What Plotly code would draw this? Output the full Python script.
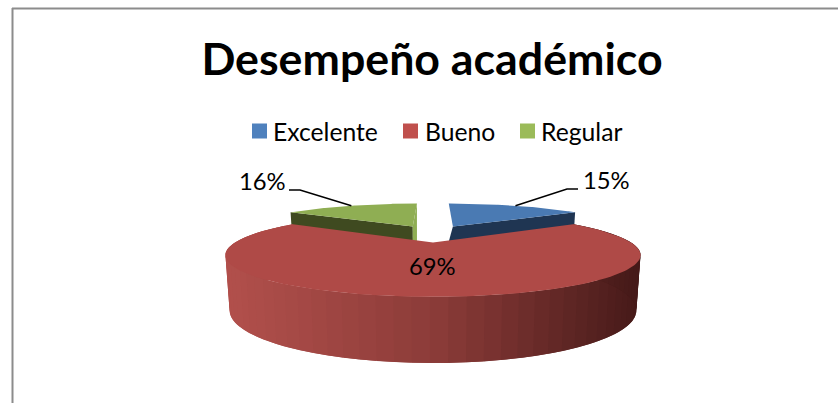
import numpy as np
import plotly.graph_objs as go

categories = ['Excelente', 'Bueno', 'Regular']
values = [15, 69, 16]
percent_labels = ['15%', '69%', '16%']

legend_colors = ['#4F81BD', '#C0504D', '#9BBB59']
top_colors = ['#4A7AB3', '#AF4A47', '#8FAE53']
side_colors = ['#1F3552', '#7A2F2D', '#3F4A20']

# first slice angle, red slice ends up centered on the front
first_angle = 1.8

# slice offsets in the pie plane (exploded pie)
explode = {'Excelente': (0.115, -0.48), 'Bueno': (0.0, 0.0), 'Regular': (-0.117, -0.48)}
# apex of the hidden bottom face, the blue one leans inward
bottom_apex_x = {'Excelente': 0.04, 'Bueno': 0.0, 'Regular': -0.117}

# perspective of the pie plane, in page pixels
CX, CY = 433.0, 242.5
A, B, P = 198.0, 38.0, 0.30
THICK, B_LOW, SCALE_LOW = 52.0, 48.0, 0.98

# gradient of the big side wall, left to right
wall_stops = [(0.0, (178, 80, 76)), (0.5, (138, 59, 56)), (1.0, (70, 26, 25))]

# hand placed legend: swatch centre and text start
legend_swatch_x = [259.5, 410.5, 527.5]
legend_text_x = [273, 425, 541]


def top_point(px, py):
    w = 1 - P * py
    return CX + A * px / w, CY + B * py / w


def low_point(px, py):
    w = 1 - P * py
    return CX + SCALE_LOW * A * px / w, CY + THICK + B_LOW * py / w


def arc(start, end, off):
    # angles clockwise from 12 o'clock, pie y grows towards the viewer
    t = np.radians(np.linspace(start, end, 120))
    return off[0] + np.sin(t), off[1] - np.cos(t)


def wall_color(f):
    f = min(max(f, 0), 1)
    xs = [s[0] for s in wall_stops]
    rgb = [np.interp(f, xs, [s[1][i] for s in wall_stops]) for i in range(3)]
    return 'rgb(%d,%d,%d)' % tuple(rgb)


def polygon(xs, ys, color):
    return go.Scatter(
        x=list(xs), y=list(ys), mode='lines', fill='toself', fillcolor=color,
        line={'color': color, 'width': 0}, hoverinfo='skip', showlegend=False
    )


# slice angles from the values
total = sum(values)
edges = first_angle + np.cumsum([0] + values) * 360.0 / total
spans = {c: (edges[i], edges[i + 1]) for i, c in enumerate(categories)}
# back edges of the two small slices sit on 12 o'clock
spans['Excelente'] = (0.0, spans['Excelente'][1])
spans['Regular'] = (spans['Regular'][0], 360.0)

fig = go.Figure()

# small slices go first, the big one covers them
for i in [0, 2, 1]:
    name = categories[i]
    start, end = spans[name]
    off = explode[name]
    ax, ay = arc(start, end, off)
    tx, ty = top_point(ax, ay)
    lx, ly = low_point(ax, ay)
    apx, apy = top_point(off[0], off[1])

    if name == 'Bueno':
        # outer wall in strips, painted left to right, each one overlaps the last
        wt = np.radians(np.linspace(end, start, 200))
        wx, wy = off[0] + np.sin(wt), off[1] - np.cos(wt)
        wtx, wty = top_point(wx, wy)
        wlx, wly = low_point(wx, wy)
        for k in range(0, len(wx) - 1, 3):
            seg = np.arange(k, min(k + 7, len(wx)))
            f = (wtx[k] - wtx.min()) / (wtx.max() - wtx.min())
            fig.add_trace(polygon(
                np.r_[wtx[seg], wlx[seg][::-1]],
                np.r_[wty[seg], wly[seg][::-1]],
                wall_color(f)
            ))
    else:
        # the radial cut that faces the viewer
        k = -1 if name == 'Excelente' else 0
        alx, aly = low_point(bottom_apex_x[name], off[1])
        fig.add_trace(polygon(
            [apx, tx[k], lx[k], alx, apx],
            [apy, ty[k], ly[k], aly, apy],
            side_colors[i]
        ))

    if name == 'Regular':
        # inner cut of the green slice shows in the gap, same tone as its top
        fig.add_trace(polygon(
            [tx[-1], apx, apx, tx[-1], tx[-1]],
            [ty[-1], apy, aly, aly, ty[-1]],
            top_colors[i]
        ))

    fig.add_trace(polygon(
        np.r_[apx, tx, apx], np.r_[apy, ty, apy], top_colors[i]
    ))

# legend swatches and texts
text_font = {'family': 'Lato', 'size': 24.7, 'color': 'black'}
label_font = {'family': 'Lato', 'size': 23.8, 'color': 'black'}
for i, name in enumerate(categories):
    fig.add_trace(go.Scatter(
        x=[legend_swatch_x[i]], y=[131], mode='markers', name=name, showlegend=False,
        hoverinfo='skip',
        marker={'symbol': 'square', 'size': 15, 'color': legend_colors[i]}
    ))
    fig.add_annotation(x=legend_text_x[i], y=131, text=name, showarrow=False,
                       xanchor='left', font=text_font, borderpad=0, xshift=-1)

# leader lines start on the middle of the outer arc
for name, label, elbow, tail, label_x, label_y in [
    ('Excelente', percent_labels[0], (567, 189), (578, 189), 606.5, 180),
    ('Regular', percent_labels[2], (300, 190), (289, 190), 262, 181),
]:
    start, end = spans[name]
    mx, my = arc(start, end, explode[name])
    sx, sy = top_point(mx[60], my[60])
    fig.add_trace(go.Scatter(
        x=[sx, elbow[0], tail[0]], y=[sy, elbow[1], tail[1]], mode='lines',
        line={'color': 'black', 'width': 1.5}, hoverinfo='skip', showlegend=False
    ))
    fig.add_annotation(x=label_x, y=label_y, text=label, showarrow=False, font=label_font)

fig.add_annotation(x=432, y=266, text=percent_labels[1], showarrow=False, font=label_font)

fig.update_layout(
    width=838,
    height=403,
    autosize=False,
    showlegend=False,
    margin={'l': 0, 'r': 0, 't': 0, 'b': 0},
    paper_bgcolor='white',
    plot_bgcolor='white',
    title={
        'text': '<b>Desempeño académico</b>', 'x': 432 / 838, 'xanchor': 'center',
        'y': 1 - 59 / 403, 'yanchor': 'middle',
        'font': {'family': 'Lato', 'size': 44.7, 'color': 'black'}
    },
    xaxis={'range': [0, 838], 'visible': False, 'fixedrange': True},
    yaxis={'range': [403, 0], 'visible': False, 'fixedrange': True},
    shapes=[
        {'type': 'line', 'x0': 12, 'x1': 838, 'y0': 8.5, 'y1': 8.5,
         'line': {'color': '#8C8C8C', 'width': 2}},
        {'type': 'line', 'x0': 12.5, 'x1': 12.5, 'y0': 8, 'y1': 403,
         'line': {'color': '#8C8C8C', 'width': 2}},
    ],
)

fig.write_html("out.html", config={'displayModeBar': False},
               post_script="document.body.style.margin = '0';")
